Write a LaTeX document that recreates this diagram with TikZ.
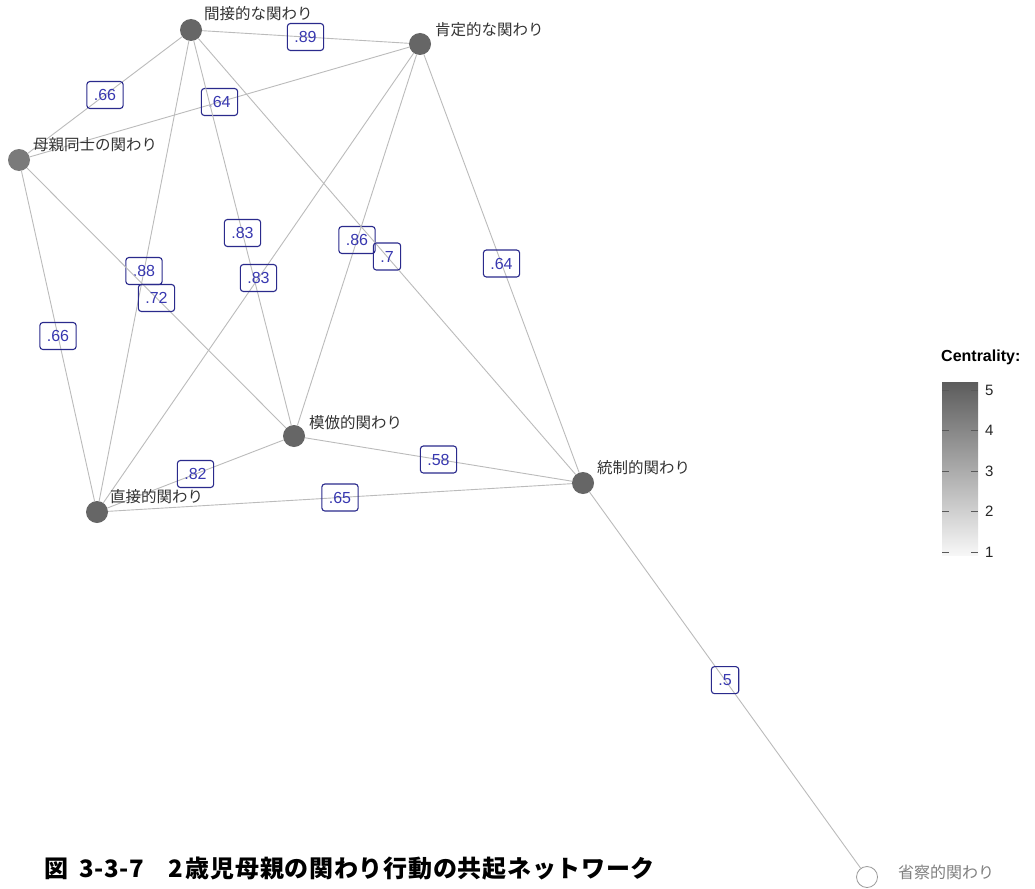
\documentclass[tikz,border=0pt]{standalone}
\usepackage{fontspec}
\setmainfont{Liberation Sans}
\newfontfamily\jp{Noto Sans CJK JP}
\newfontfamily\jpcap{Noto Sans CJK JP}[LetterSpace=3]
\usetikzlibrary{calc}
\definecolor{edgec}{HTML}{BBBBBB}
\definecolor{boxc}{HTML}{2A2A8C}
\definecolor{numc}{HTML}{3838B0}
\definecolor{nodec}{HTML}{666666}
\definecolor{nodec4}{HTML}{7A7A7A}
\definecolor{labc}{HTML}{333333}
\definecolor{glow}{HTML}{F7F7F7}
\definecolor{ghigh}{HTML}{5C5C5C}
\tikzset{
  vert/.style={circle, fill=nodec, minimum size=22pt, inner sep=0pt},
  vlab/.style={anchor=west, inner sep=0pt, text=labc, font=\jp\fontsize{15.5}{18}\selectfont},
  edge/.style={draw=edgec, line width=0.9pt},
  elab/.style={draw=boxc, text=numc, rounded corners=3pt, line width=1.1pt,
    inner xsep=7pt, inner ysep=0pt, minimum height=27pt,
    font=\fontsize{16}{19}\selectfont},
  tick/.style={draw=black!65, line width=0.9pt},
  legnum/.style={anchor=west, inner sep=0pt, text=black!85, font=\fontsize{15}{18}\selectfont}
}
\begin{document}
\begin{tikzpicture}[x=1pt,y=-1pt]
\useasboundingbox (0,0) rectangle (1035,888);
\fill[white] (0,0) rectangle (1035,888);

% vertices
\node[vert] (A) at (191,30) {};
\node[vert] (B) at (420,44) {};
\node[vert, fill=nodec4] (C) at (19,160) {};
\node[vert] (D) at (294,436) {};
\node[vert] (E) at (97,512) {};
\node[vert] (F) at (583,483) {};
\node[vert, fill=white, draw=black!40, line width=0.8pt, minimum size=21pt] (G) at (867,877) {};

% edges with labels
\draw[edge] (A) -- node[elab] {.89} (B);
\draw[edge] (A) -- node[elab] {.66} (C);
\draw[edge] (C) -- node[elab] {.64} (B);
\draw[edge] (A) -- node[elab] {.83} (D);
\draw[edge] (A) -- node[elab] {.88} (E);
\draw[edge] (C) -- node[elab] {.72} (D);
\draw[edge] (C) -- node[elab] {.66} (E);
\draw[edge] (B) -- node[elab] {.83} (E);
\draw[edge] (B) -- node[elab] {.86} (D);
\draw[edge] (A) -- node[elab] {.7} (F);
\draw[edge] (B) -- node[elab] {.64} (F);
\draw[edge] (D) -- node[elab] {.82} (E);
\draw[edge] (D) -- node[elab] {.58} (F);
\draw[edge] (E) -- node[elab] {.65} (F);
\draw[edge] (F) -- node[elab] {.5} (G);

% vertex labels
\node[vlab] (Al) at ([shift={(13,-16)}]A.center) {間接的な関わり};
\node[vlab] (Bl) at ([shift={(15,-14)}]B.center) {肯定的な関わり};
\node[vlab] (Cl) at ([shift={(14,-15)}]C.center) {母親同士の関わり};
\node[vlab] (Dl) at ([shift={(15,-13)}]D.center) {模倣的関わり};
\node[vlab] (El) at ([shift={(13,-15)}]E.center) {直接的関わり};
\node[vlab] (Fl) at ([shift={(14,-15)}]F.center) {統制的関わり};
\node[vlab, text=black!50, font=\jp\fontsize{16}{19}\selectfont] (Gl) at ([shift={(31,-5)}]G.center) {省察的関わり};

% legend
\node[anchor=west, inner sep=0pt, font=\bfseries\fontsize{16}{19}\selectfont] (legt) at (941,357) {Centrality:};
\shade[top color=ghigh, bottom color=glow] (942,382) rectangle (978,555);
\foreach \v/\yy in {1/552,2/511.5,3/471,4/430.5,5/390}{
  \draw[tick] (942,\yy) -- (949,\yy);
  \draw[tick] (971,\yy) -- (978,\yy);
  \node[legnum] at (985,\yy) {\v};
}

% caption
\node[anchor=west, inner sep=0pt, font=\jpcap\bfseries\fontsize{24}{28}\selectfont] (cap) at (44,869) {図\hspace{11pt}3-3-7\hspace{24pt}2\hspace{3pt}歳児母親の関わり行動の共起ネットワーク};
\end{tikzpicture}
\end{document}
